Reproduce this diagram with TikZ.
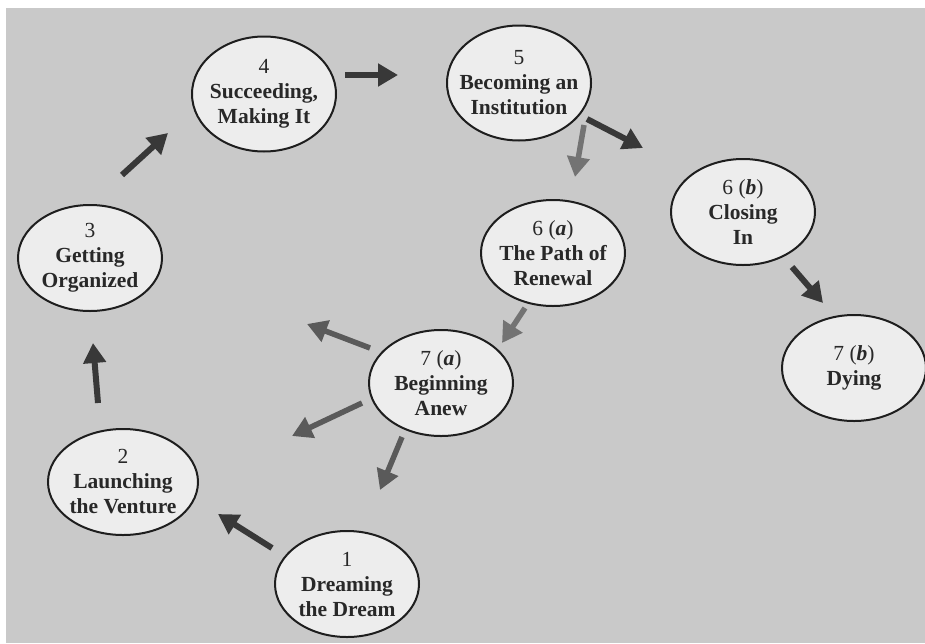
\documentclass[tikz,border=0pt]{standalone}
\usepackage{fontspec}
\setmainfont{Liberation Serif}
\usetikzlibrary{shapes.geometric,arrows.meta}

\definecolor{paper}{RGB}{201,201,201}
\definecolor{bubble}{RGB}{237,237,237}
\definecolor{outline}{RGB}{30,30,30}
\definecolor{ink}{RGB}{40,40,40}
\definecolor{mainarrow}{RGB}{56,56,56}
\definecolor{renewarrow}{RGB}{115,115,115}
\definecolor{restartarrow}{RGB}{90,90,90}

\begin{document}
\begin{tikzpicture}[x=1pt,y=-1pt,
  stage/.style={ellipse, draw=outline, line width=2pt, fill=bubble,
    minimum width=144pt, minimum height=106pt,
    inner xsep=-12pt, inner ysep=-8pt,
    align=center, text=ink,
    font=\fontsize{21.5}{25}\selectfont\bfseries},
  tall/.style={minimum height=115pt},
  flow/.style={line width=6pt, draw=mainarrow,
    -{Triangle[width=22pt,length=20pt]}},
  renew/.style={flow, draw=renewarrow, line width=5.5pt},
  restart/.style={flow, draw=restartarrow, line width=5.5pt}]

% page and grey card
\useasboundingbox (0,0) rectangle (925,643);
\fill[white] (0,0) rectangle (925,643);
\fill[paper] (6,8) rectangle (925,643);

% life-cycle stages
\node[stage] (s1) at (347,584) {{\mdseries 1}\\Dreaming\\the Dream};
\node[stage,minimum width=150pt] (s2) at (123,482) {{\mdseries 2}\\Launching\\the Venture};
\node[stage] (s3) at (90,258) {{\mdseries 3}\\Getting\\Organized};
\node[stage,tall] (s4) at (264,94) {{\mdseries 4}\\Succeeding,\\Making It};
\node[stage,tall] (s5) at (519,83) {{\mdseries 5}\\Becoming an\\Institution};
\node[stage] (s6a) at (553,253) {{\mdseries 6 (}\textit{a}{\mdseries )}\\The Path of\\Renewal};
\node[stage] (s6b) at (743,212) {{\mdseries 6 (}\textit{b}{\mdseries )}\\Closing\\In};
\node[stage] (s7a) at (441,383) {{\mdseries 7 (}\textit{a}{\mdseries )}\\Beginning\\Anew};
\node[stage] (s7b) at (854,368) {{\mdseries 7 (}\textit{b}{\mdseries )}\\Dying};

% arrow end points between the stages
\coordinate (t12) at (272,548);  \coordinate (h12) at (218,514);
\coordinate (t23) at (98,403);   \coordinate (h23) at (93,343);
\coordinate (t34) at (122,175);  \coordinate (h34) at (168,133);
\coordinate (t45) at (345,75);   \coordinate (h45) at (398,75);
\coordinate (t56b) at (587,119); \coordinate (h56b) at (643,148);
\coordinate (t56a) at (584,125); \coordinate (h56a) at (575,177);
\coordinate (t6b7b) at (792,267); \coordinate (h6b7b) at (823,303);
\coordinate (t6a7a) at (525,308); \coordinate (h6a7a) at (502,343);
\coordinate (t7a3) at (370,348); \coordinate (h7a3) at (307,324);
\coordinate (t7a2) at (362,403); \coordinate (h7a2) at (292,436);
\coordinate (t7a1) at (402,437); \coordinate (h7a1) at (380,490);

% main cycle
\draw[flow] (t12) -- (h12);
\draw[flow] (t23) -- (h23);
\draw[flow] (t34) -- (h34);
\draw[flow] (t45) -- (h45);
\draw[flow] (t56b) -- (h56b);
\draw[flow] (t6b7b) -- (h6b7b);

% renewal path
\draw[renew] (t56a) -- (h56a);
\draw[renew] (t6a7a) -- (h6a7a);

% starting again
\draw[restart] (t7a3) -- (h7a3);
\draw[restart] (t7a2) -- (h7a2);
\draw[restart] (t7a1) -- (h7a1);
\end{tikzpicture}
\end{document}
